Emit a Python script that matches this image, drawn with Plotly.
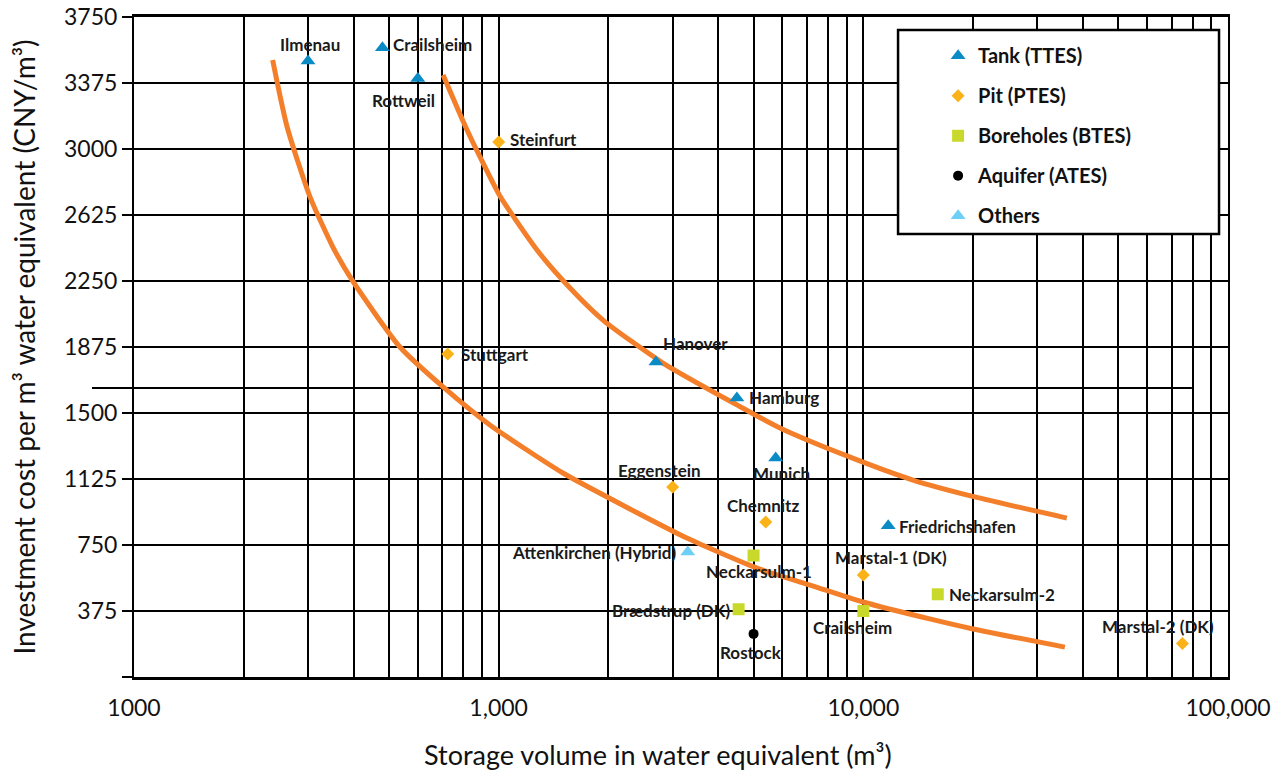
import numpy as np
import plotly.graph_objects as go

# Storage projects: volume (m³ water equivalent) and investment cost (CNY/m³)
tank_sites = ["Ilmenau", "Crailsheim", "Rottweil", "Hanover", "Hamburg", "Munich", "Friedrichshafen"]
tank_volume = [300, 480, 600, 2700, 4500, 5750, 11700]
tank_cost = [3500, 3575, 3400, 1790, 1585, 1245, 860]

pit_sites = ["Steinfurt", "Stuttgart", "Eggenstein", "Chemnitz", "Marstal-1 (DK)", "Marstal-2 (DK)"]
pit_volume = [1000, 725, 3000, 5400, 10000, 75000]
pit_cost = [3040, 1835, 1080, 880, 580, 190]

btes_sites = ["Neckarsulm-1", "Brædstrup (DK)", "Crailsheim", "Neckarsulm-2"]
btes_volume = [5000, 4550, 10000, 16000]
btes_cost = [690, 385, 375, 470]

ates_sites = ["Rostock"]
ates_volume = [5000]
ates_cost = [245]

other_sites = ["Attenkirchen (Hybrid)"]
other_volume = [3300]
other_cost = [710]

# Trend curves
lower_curve_volume = [240, 263, 304, 351, 396, 536, 704, 946, 1500, 2290, 3280, 5110, 7280, 9980, 15200, 20000, 35700]
lower_curve_cost = [3506, 3125, 2727, 2443, 2256, 1875, 1648, 1432, 1159, 955, 790, 619, 517, 426, 330, 273, 170]
upper_curve_volume = [704, 819, 889, 1008, 1274, 1569, 1932, 2821, 4502, 5906, 9016, 13677, 20230, 36150]
upper_curve_cost = [3421, 3108, 2955, 2733, 2426, 2210, 2028, 1784, 1546, 1415, 1256, 1119, 1023, 903]

# Axis ticks
x_tick_values = [m * 10 ** e for e in (2, 3, 4) for m in range(1, 10)] + [100000]
x_tick_labels = {100: "1000", 1000: "1,000", 10000: "10,000", 100000: "100,000"}
y_tick_values = list(range(0, 3751, 375))

# Label placement: (xanchor, xshift, yshift) in pixels
label_place = {
    ("Tank (TTES)", "Ilmenau"): ("center", 2, 17),
    ("Tank (TTES)", "Crailsheim"): ("left", 9, 3),
    ("Tank (TTES)", "Rottweil"): ("center", -14, -22),
    ("Tank (TTES)", "Hanover"): ("center", 40, 18),
    ("Tank (TTES)", "Hamburg"): ("left", 10, 1),
    ("Tank (TTES)", "Munich"): ("center", 6, -16),
    ("Tank (TTES)", "Friedrichshafen"): ("left", 9, -1),
    ("Pit (PTES)", "Steinfurt"): ("left", 9, 2),
    ("Pit (PTES)", "Stuttgart"): ("left", 11, 0),
    ("Pit (PTES)", "Eggenstein"): ("center", -13, 16),
    ("Pit (PTES)", "Chemnitz"): ("center", -3, 17),
    ("Pit (PTES)", "Marstal-1 (DK)"): ("center", 28, 17),
    ("Pit (PTES)", "Marstal-2 (DK)"): ("center", -24, 17),
    ("Boreholes (BTES)", "Neckarsulm-1"): ("center", 5, -16),
    ("Boreholes (BTES)", "Brædstrup (DK)"): ("right", -7, -1),
    ("Boreholes (BTES)", "Crailsheim"): ("center", -11, -16),
    ("Boreholes (BTES)", "Neckarsulm-2"): ("left", 9, 0),
    ("Aquifer (ATES)", "Rostock"): ("center", -3, -19),
    ("Others", "Attenkirchen (Hybrid)"): ("right", -10, 0),
}

FONT = "Lato"
ORANGE = "#f47f2b"

groups = [
    ("Tank (TTES)", tank_sites, tank_volume, tank_cost, "triangle-up", "#0a8bc6", 13),
    ("Pit (PTES)", pit_sites, pit_volume, pit_cost, "diamond", "#fbb118", 10),
    ("Boreholes (BTES)", btes_sites, btes_volume, btes_cost, "square", "#c9d92c", 12),
    ("Aquifer (ATES)", ates_sites, ates_volume, ates_cost, "circle", "#000000", 10),
    ("Others", other_sites, other_volume, other_cost, "triangle-up", "#6dcff6", 13),
]

fig = go.Figure()

for vol, cost in ((lower_curve_volume, lower_curve_cost), (upper_curve_volume, upper_curve_cost)):
    fig.add_trace(go.Scatter(
        x=vol, y=cost, mode="lines", showlegend=False, hoverinfo="skip",
        line=dict(color=ORANGE, width=5, shape="spline", smoothing=0.6),
    ))

annotations = []
for name, sites, vol, cost, symbol, color, size in groups:
    fig.add_trace(go.Scatter(
        x=vol, y=cost, mode="markers", name=name, legendgroup=name,
        text=sites, hovertemplate="%{text}<br>%{x}<br>%{y}<extra></extra>",
        marker=dict(symbol=symbol, color=color, size=size, line=dict(width=0)),
    ))
    for s, v, c in zip(sites, vol, cost):
        anchor, dx, dy = label_place[(name, s)]
        annotations.append(dict(
            x=np.log10(v), y=c, xref="x", yref="y", text=s, showarrow=False,
            xanchor=anchor, yanchor="middle", xshift=dx, yshift=dy,
            font=dict(family=FONT, size=17, color="#1a1a1a", weight="bold"),
        ))

# x-axis title, set slightly left of the plot centre
annotations.append(dict(
    text="Storage volume in water equivalent (m³)", xref="paper", yref="paper",
    x=0.479, y=-0.118, xanchor="center", yanchor="middle", showarrow=False,
    font=dict(family=FONT, size=27, color="#111111"),
))

fig.update_layout(
    width=1288, height=777,
    margin=dict(l=134, r=60, t=17, b=100, autoexpand=False),
    paper_bgcolor="white", plot_bgcolor="white",
    font=dict(family=FONT, color="#111111"),
    annotations=annotations,
    showlegend=True,
    legend=dict(
        x=0.735, xanchor="left", y=0.971, yanchor="top",
        bgcolor="rgba(0,0,0,0)", borderwidth=0,
        font=dict(family=FONT, size=20, color="#111111", weight="bold"),
        tracegroupgap=11, itemsizing="trace",
    ),
    shapes=[
        # legend frame
        dict(type="rect", xref="paper", yref="paper",
             x0=0.6984, x1=0.9918, y0=0.6712, y1=0.9803,
             fillcolor="white", line=dict(color="black", width=2.5), layer="above"),
        # stray horizontal rule across the grid
        dict(type="line", xref="paper", yref="paper",
             x0=-0.0384, x1=0.967, y0=1642 / 3750, y1=1642 / 3750,
             line=dict(color="black", width=2), layer="between"),
    ],
)

fig.update_xaxes(
    type="log", range=[2, 5], automargin=False,
    tickvals=x_tick_values,
    ticktext=[x_tick_labels.get(v, "") for v in x_tick_values],
    ticks="", ticklabelstandoff=8,
    tickfont=dict(family=FONT, size=23, color="#111111"),
    showgrid=True, gridcolor="black", gridwidth=2,
    showline=True, linecolor="black", linewidth=3, mirror=True,
    zeroline=False,
)
fig.update_yaxes(
    range=[0, 3750], automargin=False,
    tickvals=y_tick_values,
    ticktext=["" if v == 0 else str(v) for v in y_tick_values],
    ticks="outside", ticklen=10, tickwidth=2, tickcolor="black",
    tickfont=dict(family=FONT, size=23, color="#111111"),
    showgrid=True, gridcolor="black", gridwidth=2,
    showline=True, linecolor="black", linewidth=2, mirror=True,
    zeroline=False,
    title=dict(text="Investment cost per m³ water equivalent (CNY/m³)",
               font=dict(family=FONT, size=28, color="#111111"), standoff=20),
)

fig.write_html("out.html")
